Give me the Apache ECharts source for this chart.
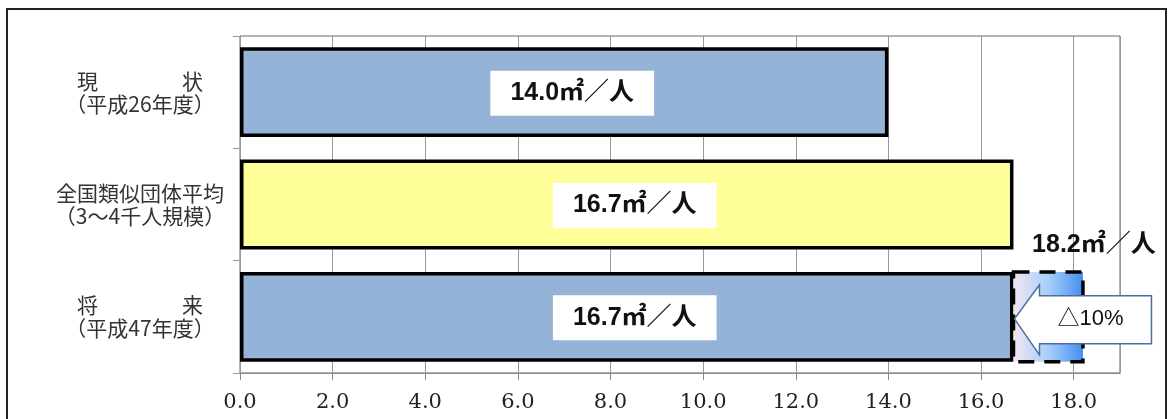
<!DOCTYPE html>
<html>
<head>
<meta charset="utf-8">
<script src="https://cdn.jsdelivr.net/npm/echarts@6/dist/echarts.min.js"></script>
<style>
  html, body { margin: 0; padding: 0; background: #fff; }
  #areaChart { width: 1169px; height: 419px; }
</style>
</head>
<body>
<div id="areaChart"></div>
<script>
// 一人当たり面積（㎡/人）
var categories = ['現　　　　状\n（平成26年度）', '全国類似団体平均\n（3〜4千人規模）', '将　　　　来\n（平成47年度）'];
var areaValues = [14.0, 16.7, 16.7];
var barColors = ['#95B3D7', '#FFFF99', '#95B3D7'];
// 将来目標（削減前）と削減率
var targetIndex = 2;
var targetValue = 18.2;
var reductionText = '△10%';
// x軸
var xMin = 0;
var xMax = 19;
var xStep = 2;

var unit = '㎡／人';
var labelFont = 'Liberation Sans, Noto Sans CJK JP, sans-serif';

var myChart = echarts.init(document.getElementById('areaChart'));

var option = {
	animation: false,
	graphic: [{
		type: 'rect',
		shape: { x: 7, y: 9, width: 1159, height: 440 },
		style: { fill: 'none', stroke: '#222', lineWidth: 2 },
		silent: true
	}],
	grid: {
		left: 240,
		right: 49,
		top: 36,
		bottom: 46,
		show: true,
		borderColor: '#666',
		borderWidth: 1
	},
	xAxis: {
		type: 'value',
		min: xMin,
		max: xMax,
		interval: xStep,
		axisLine: { show: true, lineStyle: { color: '#888', width: 1 } },
		axisTick: { show: true, length: 7, lineStyle: { color: '#888' } },
		splitLine: { show: true, lineStyle: { color: '#999', width: 1 } },
		axisLabel: {
			margin: 19,
			color: '#222',
			fontSize: 21,
			fontFamily: 'DejaVu Serif, serif',
			showMaxLabel: false,
			formatter: function (v) {
				return v % xStep === 0 ? v.toFixed(1) : '';
			}
		}
	},
	yAxis: {
		type: 'category',
		inverse: true,
		data: categories,
		axisLine: { show: true, lineStyle: { color: '#999' } },
		axisTick: { show: true, length: 7, lineStyle: { color: '#999' } },
		axisLabel: {
			margin: 100,
			align: 'center',
			color: '#333',
			fontSize: 21,
			lineHeight: 23,
			fontFamily: 'Noto Sans CJK JP, sans-serif'
		}
	},
	series: [{
		name: '面積',
		type: 'bar',
		barWidth: '80%',
		z: 2,
		itemStyle: {
			borderColor: '#000',
			borderWidth: 3.5
		},
		label: {
			show: true,
			position: 'inside',
			offset: [8, 1],
			backgroundColor: '#fff',
			padding: [10, 20],
			color: '#111',
			fontSize: 25,
			fontWeight: 'bold',
			fontFamily: labelFont,
			formatter: function (p) {
				return p.value.toFixed(1) + unit;
			}
		},
		data: areaValues.map(function (v, i) {
			return { value: v, itemStyle: { color: barColors[i] } };
		})
	}, {
		name: '目標',
		type: 'custom',
		z: 5,
		clip: false,
		renderItem: function (params, api) {
			var idx = api.value(0);
			var start = api.coord([api.value(1), idx]);
			var end = api.coord([api.value(2), idx]);
			var h = api.size([0, 1])[1] * 0.8;
			var top = start[1] - h / 2;
			var cy = start[1] + 2;
			var tip = start[0] + 1;
			return {
				type: 'group',
				children: [{
					type: 'rect',
					shape: { x: start[0], y: top, width: end[0] - start[0], height: h },
					style: {
						fill: new echarts.graphic.LinearGradient(0, 0, 1, 0, [
							{ offset: 0, color: '#F6E6F2' },
							{ offset: 0.5, color: '#A8CFFA' },
							{ offset: 1, color: '#3F8BF0' }
						]),
						stroke: '#000',
						lineWidth: 3.5,
						lineDash: [16, 10]
					}
				}, {
					type: 'text',
					style: {
						text: api.value(2).toFixed(1) + unit,
						x: end[0] + 11,
						y: top - 27,
						align: 'center',
						verticalAlign: 'middle',
						fill: '#111',
						fontSize: 25,
						fontWeight: 'bold',
						fontFamily: labelFont
					}
				}, {
					type: 'polygon',
					shape: {
						points: [
							[tip, cy],
							[tip + 25, cy - 34],
							[tip + 25, cy - 23],
							[tip + 137, cy - 23],
							[tip + 137, cy + 25],
							[tip + 25, cy + 25],
							[tip + 25, cy + 36]
						]
					},
					style: { fill: '#fff', stroke: '#4A6F9E', lineWidth: 1.5 }
				}, {
					type: 'text',
					style: {
						text: reductionText,
						x: tip + 76,
						y: cy,
						align: 'center',
						verticalAlign: 'middle',
						fill: '#111',
						fontSize: 22,
						fontFamily: labelFont
					}
				}]
			};
		},
		data: [[targetIndex, areaValues[targetIndex], targetValue]]
	}]
};

myChart.setOption(option);
window.onresize = myChart.resize;
</script>
</body>
</html>
